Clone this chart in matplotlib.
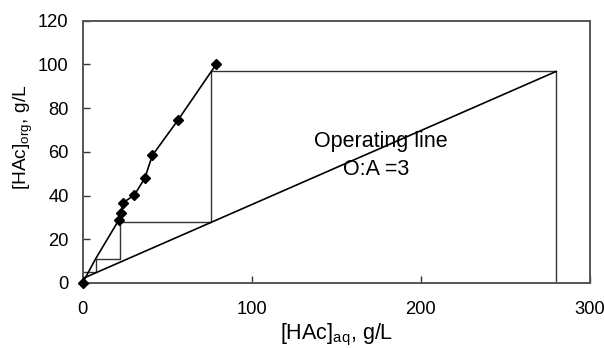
import matplotlib
matplotlib.use("Agg")
import matplotlib.pyplot as plt

plt.rcParams['font.family'] = ['Liberation Sans', 'DejaVu Sans']
plt.rcParams['mathtext.fontset'] = 'custom'
plt.rcParams['mathtext.rm'] = 'Liberation Sans'
plt.rcParams['mathtext.it'] = 'Liberation Sans'

# Equilibrium data (markers)
eq_x = [0, 21.3, 22.9, 23.8, 30.7, 36.8, 41.3, 56.5, 79.0]
eq_y = [0, 28.6, 31.9, 36.6, 40.3, 47.9, 58.4, 74.6, 100.0]
# Equilibrium curve (line through data, incl. bend near origin)
curve_x = [0, 7.7, 21.3, 22.9, 23.8, 30.7, 36.8, 41.3, 56.5, 79.0]
curve_y = [0, 11.0, 28.6, 31.9, 36.6, 40.3, 47.9, 58.4, 74.6, 100.0]
# Operating line
op_x = [0, 280]
op_y = [2.0, 96.8]
# Stage construction (McCabe-Thiele steps)
step_x = [280, 280, 76.2, 76.2, 22.4, 22.4, 7.7, 7.7, 0]
step_y = [1.0, 96.8, 96.8, 28.0, 28.0, 11.0, 11.0, 5.0, 5.0]

x_ticks = [0, 100, 200, 300]
y_ticks = [0, 20, 40, 60, 80, 100, 120]

fig = plt.figure(figsize=(6.04, 3.48), dpi=100)
ax = fig.add_axes([0.1366, 0.1868, 0.8402, 0.7537])

ax.plot(step_x, step_y, color='#333333', lw=1.0, zorder=2)
ax.plot(op_x, op_y, color='black', lw=1.2, zorder=3)
ax.plot(curve_x, curve_y, color='black', lw=1.2, zorder=3)
ax.plot(eq_x, eq_y, linestyle='none', marker='D', color='black', ms=5, zorder=4, clip_on=False)

ax.text(176.4, 64.6, 'Operating line', ha='center', va='center', fontsize=15.5)
ax.text(173.5, 51.7, 'O:A =3', ha='center', va='center', fontsize=15.5)

ax.set_xlim(0, 300)
ax.set_ylim(0, 120)
ax.set_xticks(x_ticks)
ax.set_yticks(y_ticks)
ax.tick_params(direction='in', length=5, width=1, labelsize=13.2, colors='#333333', labelcolor='black')
ax.tick_params(axis='x', pad=13)
ax.tick_params(axis='y', pad=10)
for s in ax.spines.values():
    s.set_color('#555555')
    s.set_linewidth(1.4)

ax.set_xlabel(r'[HAc]$_{\mathrm{aq}}$, g/L', fontsize=15.5, labelpad=3)
ax.set_ylabel(r'[HAc]$_{\mathrm{org}}$, g/L', fontsize=13.8)
ax.yaxis.set_label_coords(-0.093, 0.557)

fig.savefig('out.png', dpi=100)
